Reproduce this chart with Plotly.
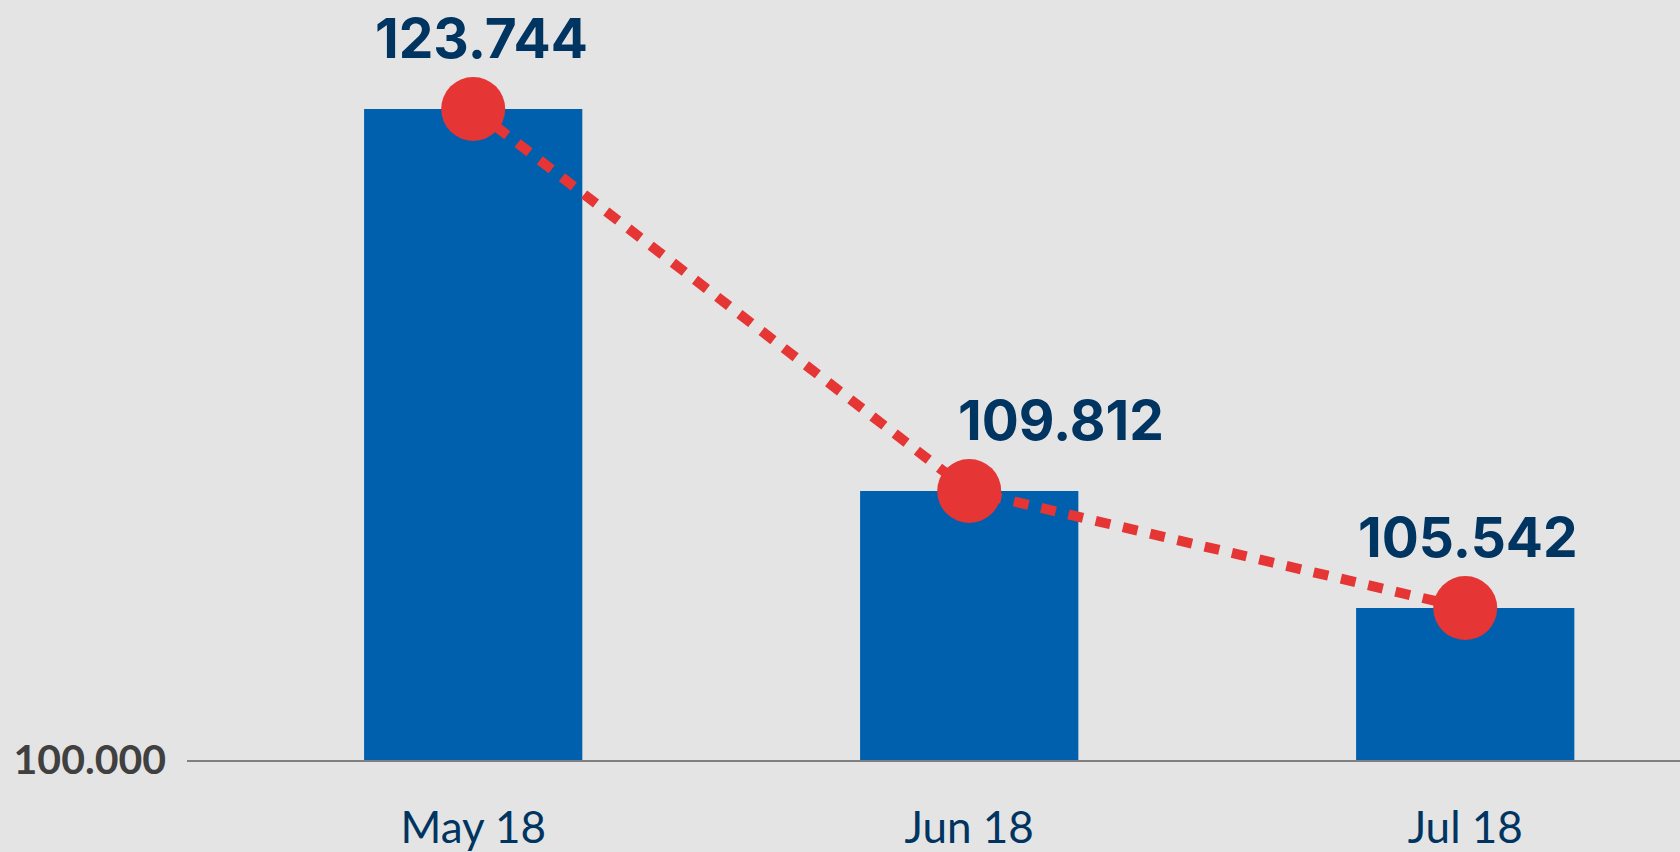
import plotly.graph_objects as go

categories = ["May 18", "Jun 18", "Jul 18"]
values = [123.744, 109.812, 105.542]
value_labels = ["123.744", "109.812", "105.542"]
label_xshift = [8, 92, 3]
y_tick_vals = [100]
y_tick_text = ["100.000"]

BG = "#e4e4e4"
BAR = "#0060ae"
RED = "#e53535"
NAVY = "#003461"
FONT = "Lato"
VFONT = "Inter"

fig = go.Figure()
fig.add_trace(go.Bar(
    x=list(range(len(categories))), y=values, width=0.44,
    marker=dict(color=BAR, line=dict(width=0)), hoverinfo="skip",
))
fig.add_trace(go.Scatter(
    x=list(range(len(categories))), y=values, mode="lines+markers",
    line=dict(color=RED, width=10, dash="15px,13px"),
    marker=dict(color=RED, size=64, line=dict(width=0)),
    cliponaxis=False, hoverinfo="skip",
))
for i, (v, t) in enumerate(zip(values, value_labels)):
    fig.add_annotation(
        x=i, y=v, text=f"<b>{t}</b>", showarrow=False,
        xshift=label_xshift[i], yshift=71, yanchor="middle",
        font=dict(family=VFONT, size=55, color=NAVY),
    )

fig.update_layout(
    width=1680, height=852,
    paper_bgcolor=BG, plot_bgcolor=BG,
    margin=dict(l=187, r=0, t=0, b=92, autoexpand=False),
    showlegend=False,
    xaxis=dict(
        range=[-0.577, 2.433],
        tickvals=list(range(len(categories))), ticktext=categories,
        tickfont=dict(family=FONT, size=44, color=NAVY),
        showgrid=False, zeroline=False,
        showline=True, linecolor="#7f7f7f", linewidth=2,
        ticks="", ticklabelstandoff=28, automargin=False,
    ),
    yaxis=dict(
        range=[100, 100 + 760 / 27.42],
        tickvals=y_tick_vals, ticktext=[f"<b>{t}</b>" for t in y_tick_text],
        tickfont=dict(family=FONT, size=41, color="#404040"),
        showgrid=False, zeroline=False, showline=False,
        ticks="", ticklabelstandoff=20, automargin=False,
    ),
)

fig.write_html(
    "out.html",
    config={"displayModeBar": False},
    post_script="document.body.style.margin='0';document.body.style.overflow='hidden';",
)
